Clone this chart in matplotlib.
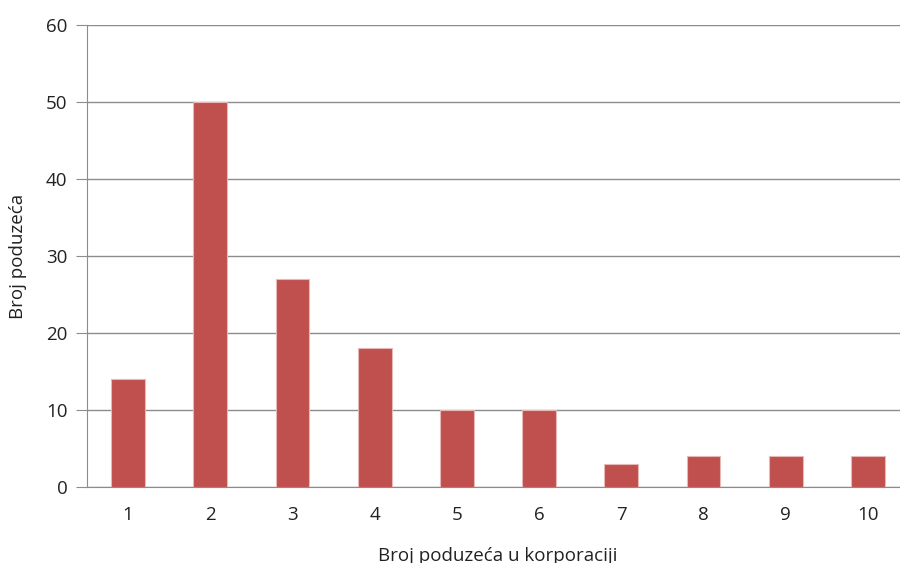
import matplotlib.pyplot as plt

categories = ['1', '2', '3', '4', '5', '6', '7', '8', '9', '10']
counts = [14, 50, 27, 18, 10, 10, 3, 4, 4, 4]
y_ticks = [0, 10, 20, 30, 40, 50, 60]

plt.rcParams['font.family'] = ['Open Sans', 'DejaVu Sans']

fig = plt.figure(figsize=(9, 5.63), dpi=100)
# the plot area runs a little past the right edge of the picture
ax = fig.add_axes([87 / 900, 1 - 487 / 563, (909 - 87) / 900, (487 - 25) / 563])

x = list(range(len(categories)))
ax.bar(x, counts, width=0.41, color='#C0504D', edgecolor='#E6B9B8', linewidth=0.8, zorder=3)

ax.set_xlim(-0.5, len(categories) - 0.5)
ax.set_ylim(0, 60)
ax.set_yticks(y_ticks)
ax.set_xticks(x)
ax.set_xticklabels(categories)
ax.yaxis.grid(True, color='#8C8C8C', linewidth=1)
ax.set_axisbelow(True)

for side in ['top', 'right']:
    ax.spines[side].set_visible(False)
ax.spines['left'].set_color('#8C8C8C')
ax.spines['bottom'].set_color('#8C8C8C')
ax.tick_params(axis='y', length=8, color='#8C8C8C', labelsize=13.5, pad=6, colors='#222222')
ax.tick_params(axis='x', length=0, labelsize=13.5, pad=14, colors='#222222')

ax.set_xlabel('Broj poduzeća u korporaciji', fontsize=13.5, labelpad=16, color='#222222')
ax.set_ylabel('Broj poduzeća', fontsize=13.5, labelpad=14, color='#222222')

fig.savefig('out.png', dpi=100)
